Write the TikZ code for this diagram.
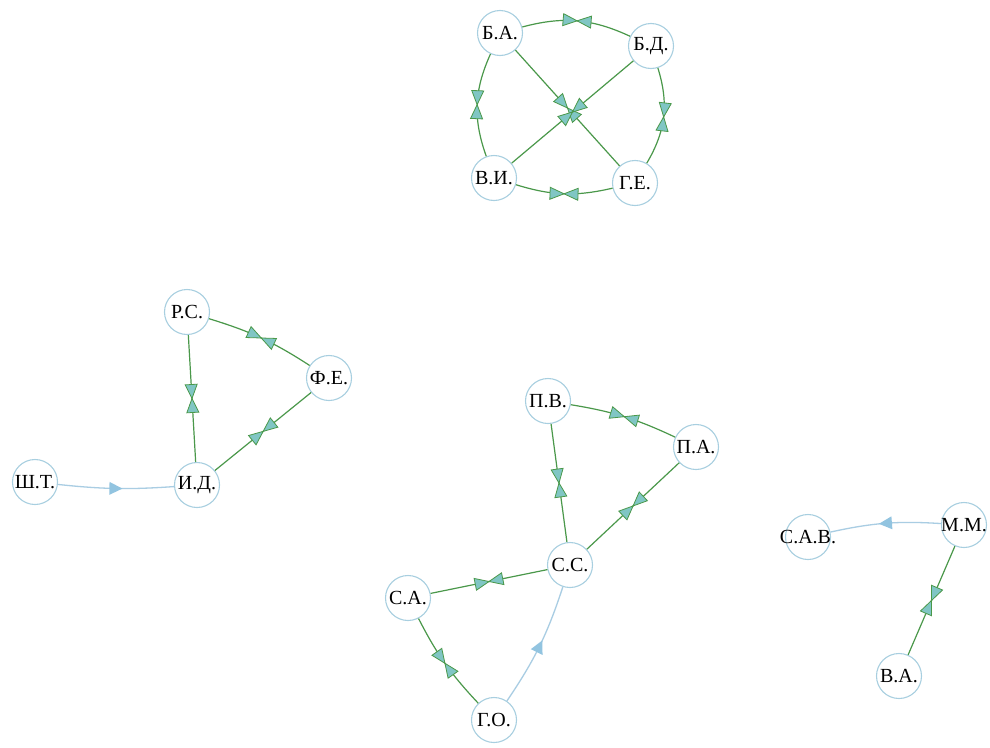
\documentclass[tikz,border=0pt]{standalone}
\usepackage{fontspec}
\setmainfont{Liberation Serif}
\usetikzlibrary{decorations.markings}
\definecolor{edgegreen}{HTML}{4A984A}
\definecolor{markfill}{HTML}{80C6C4}
\definecolor{edgeblue}{HTML}{A9CDE3}
\definecolor{arrowblue}{HTML}{92C4E0}
\definecolor{nodeblue}{HTML}{A8CFE0}
\newcommand\mybowtie{%
  \filldraw[draw=edgegreen, fill=markfill, line width=0.8pt]
    (-14pt,6pt)--(0pt,0pt)--(-14pt,-6pt)--cycle
    (14pt,6pt)--(0pt,0pt)--(14pt,-6pt)--cycle;}
\newcommand\myarrowhead{%
  \fill[arrowblue] (-6.5pt,6.5pt)--(6.5pt,0pt)--(-6.5pt,-6.5pt)--cycle;}
\begin{document}
\begin{tikzpicture}[x=1pt,y=1pt,
  person/.style={circle, draw=nodeblue, line width=1.1pt, fill=white,
    minimum size=45pt, inner sep=0pt, font=\fontsize{20}{20}\selectfont},
  mutual/.style={draw=edgegreen, line width=1.2pt, postaction={decorate},
    decoration={markings, mark=at position 0.5 with {\mybowtie}}},
  oneway/.style={draw=edgeblue, line width=1.3pt, postaction={decorate},
    decoration={markings, mark=at position 0.5 with {\myarrowhead}}}]
\useasboundingbox (0,0) rectangle (990,-747);
\fill[white] (0,0) rectangle (990,-747);
% nodes
\node[person] (ba) at (500,-33) {\makebox[0pt]{Б.А.}};
\node[person] (bd) at (651,-46) {\makebox[0pt]{Б.Д.}};
\node[person] (vi) at (494,-178) {\makebox[0pt]{В.И.}};
\node[person] (ge) at (635,-183) {\makebox[0pt]{Г.Е.}};
\node[person] (rs) at (187,-312) {\makebox[0pt]{Р.С.}};
\node[person] (fe) at (329,-378) {\makebox[0pt]{Ф.Е.}};
\node[person] (id) at (197,-485) {\makebox[0pt]{И.Д.}};
\node[person] (sht) at (35,-482) {\makebox[0pt]{Ш.Т.}};
\node[person] (pv) at (548,-401) {\makebox[0pt]{П.В.}};
\node[person] (pa) at (696,-447) {\makebox[0pt]{П.А.}};
\node[person] (ss) at (570,-565) {\makebox[0pt]{С.С.}};
\node[person] (sa) at (408,-598) {\makebox[0pt]{С.А.}};
\node[person] (go) at (494,-720) {\makebox[0pt]{Г.О.}};
\node[person] (mm) at (964,-525) {\makebox[0pt]{М.М.}};
\node[person] (sav) at (808,-537) {\makebox[0pt]{С.А.В.}};
\node[person] (va) at (899,-676) {\makebox[0pt]{В.А.}};
% edges, top cluster
\path[mutual] (ba) to[bend left=20] (bd);
\path[mutual] (ba) to[bend right=22] (vi);
\path[mutual] (bd) to[bend left=24] (ge);
\path[mutual] (vi) to[bend right=15] (ge);
\path[mutual] (ba) -- (ge);
\path[mutual] (bd) -- (vi);
% left cluster
\path[mutual] (rs) to[bend left=8] (fe);
\path[mutual] (fe) -- (id);
\path[mutual] (rs) -- (id);
\path[oneway] (sht) to[bend right=5] (id);
% middle cluster
\path[mutual] (pv) to[bend left=8] (pa);
\path[mutual] (pv) -- (ss);
\path[mutual] (pa) -- (ss);
\path[mutual] (ss) -- (sa);
\path[mutual] (sa) to[bend right=8] (go);
\path[oneway] (go) to[bend right=8] (ss);
% right cluster
\path[oneway] (mm) to[bend right=8] (sav);
\path[mutual] (mm) -- (va);
\end{tikzpicture}
\end{document}
